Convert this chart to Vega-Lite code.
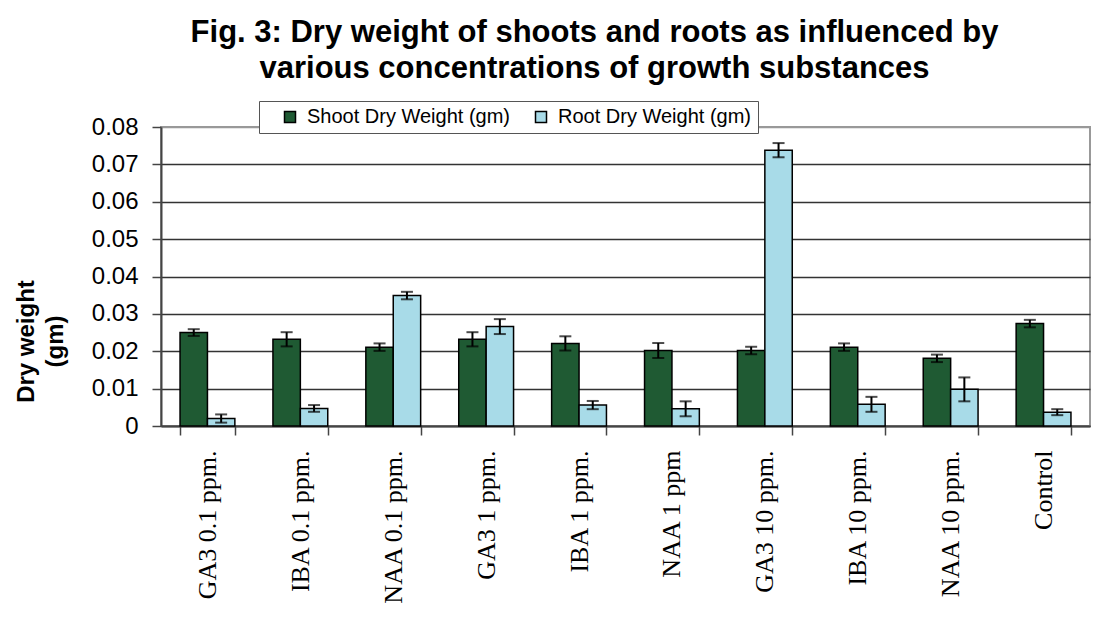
{
  "$schema": "https://vega.github.io/schema/vega-lite/v6.json",
  "width": 929,
  "height": 299,
  "autosize": {"type": "none"},
  "padding": {"left": 161, "top": 127, "right": 13, "bottom": 193},
  "background": "white",
  "title": {
    "text": ["Fig. 3: Dry weight of shoots and roots as influenced by", "various concentrations of growth substances"],
    "font": "Liberation Sans",
    "fontSize": 31,
    "fontWeight": "bold",
    "color": "black",
    "lineHeight": 36,
    "anchor": "middle",
    "frame": "group",
    "dx": -31,
    "offset": 16
  },
  "config": {
    "view": {"stroke": "#999", "strokeWidth": 2},
    "font": "Liberation Sans",
    "axisY": {
      "titleFont": "Liberation Sans",
      "titleFontSize": 24,
      "titleFontWeight": "bold",
      "titleColor": "black",
      "titleLineHeight": 29,
      "titleAngle": -90,
      "titleAlign": "center",
      "titleBaseline": "middle",
      "titleX": -135,
      "titleY": 214,
      "labelFont": "Liberation Sans",
      "labelFontSize": 24,
      "labelColor": "black",
      "labelPadding": 14,
      "labelOverlap": false,
      "tickSize": 9,
      "tickColor": "#444",
      "tickWidth": 1.5,
      "domainColor": "#444",
      "domainWidth": 2,
      "grid": true,
      "gridColor": "#333",
      "gridWidth": 1.5
    }
  },
  "data": {
    "values": [
      {"t": "GA3 0.1 ppm.", "s": "Shoot Dry Weight (gm)", "v": 0.0250, "lo": 0.0241, "hi": 0.0259},
      {"t": "GA3 0.1 ppm.", "s": "Root Dry Weight (gm)", "v": 0.0020, "lo": 0.0009, "hi": 0.0031},
      {"t": "IBA 0.1 ppm.", "s": "Shoot Dry Weight (gm)", "v": 0.0232, "lo": 0.0213, "hi": 0.0251},
      {"t": "IBA 0.1 ppm.", "s": "Root Dry Weight (gm)", "v": 0.0047, "lo": 0.0038, "hi": 0.0056},
      {"t": "NAA 0.1 ppm.", "s": "Shoot Dry Weight (gm)", "v": 0.0211, "lo": 0.0201, "hi": 0.0221},
      {"t": "NAA 0.1 ppm.", "s": "Root Dry Weight (gm)", "v": 0.0349, "lo": 0.0339, "hi": 0.0359},
      {"t": "GA3 1 ppm.", "s": "Shoot Dry Weight (gm)", "v": 0.0232, "lo": 0.0213, "hi": 0.0251},
      {"t": "GA3 1 ppm.", "s": "Root Dry Weight (gm)", "v": 0.0266, "lo": 0.0246, "hi": 0.0286},
      {"t": "IBA 1 ppm.", "s": "Shoot Dry Weight (gm)", "v": 0.0221, "lo": 0.0202, "hi": 0.0240},
      {"t": "IBA 1 ppm.", "s": "Root Dry Weight (gm)", "v": 0.0056, "lo": 0.0045, "hi": 0.0067},
      {"t": "NAA 1 ppm", "s": "Shoot Dry Weight (gm)", "v": 0.0202, "lo": 0.0182, "hi": 0.0222},
      {"t": "NAA 1 ppm", "s": "Root Dry Weight (gm)", "v": 0.0046, "lo": 0.0026, "hi": 0.0066},
      {"t": "GA3 10 ppm.", "s": "Shoot Dry Weight (gm)", "v": 0.0202, "lo": 0.0192, "hi": 0.0212},
      {"t": "GA3 10 ppm.", "s": "Root Dry Weight (gm)", "v": 0.0738, "lo": 0.0719, "hi": 0.0757},
      {"t": "IBA 10 ppm.", "s": "Shoot Dry Weight (gm)", "v": 0.0211, "lo": 0.0201, "hi": 0.0221},
      {"t": "IBA 10 ppm.", "s": "Root Dry Weight (gm)", "v": 0.0058, "lo": 0.0038, "hi": 0.0078},
      {"t": "NAA 10 ppm.", "s": "Shoot Dry Weight (gm)", "v": 0.0181, "lo": 0.0171, "hi": 0.0191},
      {"t": "NAA 10 ppm.", "s": "Root Dry Weight (gm)", "v": 0.0098, "lo": 0.0066, "hi": 0.0130},
      {"t": "Control", "s": "Shoot Dry Weight (gm)", "v": 0.0274, "lo": 0.0264, "hi": 0.0284},
      {"t": "Control", "s": "Root Dry Weight (gm)", "v": 0.0037, "lo": 0.0029, "hi": 0.0045}
    ]
  },
  "encoding": {
    "x": {
      "field": "t", "type": "nominal", "sort": null,
      "scale": {"paddingInner": 0.41, "paddingOuter": 0.205},
      "axis": {
        "title": null,
        "labelAngle": 270,
        "labelAlign": "right",
        "labelBaseline": "middle",
        "labelFont": "Liberation Serif",
        "labelFontSize": 26,
        "labelColor": "black",
        "labelPadding": 15,
        "tickBand": "extent",
        "tickSize": 9,
        "tickColor": "#444",
        "tickWidth": 1.5,
        "domainColor": "#444",
        "domainWidth": 2,
        "grid": false,
        "labelLimit": 300
      }
    },
    "xOffset": {
      "field": "s", "type": "nominal", "sort": ["Shoot Dry Weight (gm)", "Root Dry Weight (gm)"],
      "scale": {"paddingInner": 0, "paddingOuter": 0}
    }
  },
  "layer": [
    {
      "mark": {"type": "bar", "stroke": "black", "strokeWidth": 1.5},
      "encoding": {
        "y": {
          "field": "v", "type": "quantitative",
          "scale": {"domain": [0, 0.08], "nice": false},
          "axis": {
            "title": ["Dry weight", "(gm)"],
            "values": [0, 0.01, 0.02, 0.03, 0.04, 0.05, 0.06, 0.07, 0.08],
            "tickCount": 10,
            "labelExpr": "datum.value == 0 ? '0' : format(datum.value, '.2f')",
            "gridColor": {"condition": {"test": "datum.value >= 0.079", "value": "#999"}, "value": "#333"}
          }
        },
        "fill": {
          "field": "s", "type": "nominal", "sort": ["Shoot Dry Weight (gm)", "Root Dry Weight (gm)"],
          "scale": {"range": ["#1f5a33", "#a8dbe8"]},
          "legend": {
            "title": null,
            "orient": "none",
            "direction": "horizontal",
            "legendX": 98,
            "legendY": -26,
            "fillColor": "white",
            "strokeColor": "#555",
            "padding": 6,
            "symbolType": "square",
            "symbolSize": 121,
            "symbolStrokeColor": "black",
            "symbolStrokeWidth": 1.5,
            "symbolOffset": 15,
            "labelFont": "Liberation Sans",
            "labelFontSize": 20,
            "labelColor": "black",
            "labelOffset": 7,
            "columnPadding": 5,
            "labelLimit": 400,
            "labelExpr": "datum.label + '    '"
          }
        }
      }
    },
    {
      "mark": {"type": "rule", "color": "black", "strokeWidth": 2},
      "encoding": {
        "y": {"field": "lo", "type": "quantitative", "axis": {"title": ["Dry weight", "(gm)"], "values": [0, 0.01, 0.02, 0.03, 0.04, 0.05, 0.06, 0.07, 0.08], "tickCount": 10, "labelExpr": "datum.value == 0 ? '0' : format(datum.value, '.2f')"}},
        "y2": {"field": "hi"}
      }
    },
    {
      "mark": {"type": "tick", "color": "black", "thickness": 2, "size": 12},
      "encoding": {
        "y": {"field": "lo", "type": "quantitative", "axis": {"title": ["Dry weight", "(gm)"], "values": [0, 0.01, 0.02, 0.03, 0.04, 0.05, 0.06, 0.07, 0.08], "tickCount": 10, "labelExpr": "datum.value == 0 ? '0' : format(datum.value, '.2f')"}}
      }
    },
    {
      "mark": {"type": "tick", "color": "black", "thickness": 2, "size": 12},
      "encoding": {
        "y": {"field": "hi", "type": "quantitative", "axis": {"title": ["Dry weight", "(gm)"], "values": [0, 0.01, 0.02, 0.03, 0.04, 0.05, 0.06, 0.07, 0.08], "tickCount": 10, "labelExpr": "datum.value == 0 ? '0' : format(datum.value, '.2f')"}}
      }
    }
  ]
}
